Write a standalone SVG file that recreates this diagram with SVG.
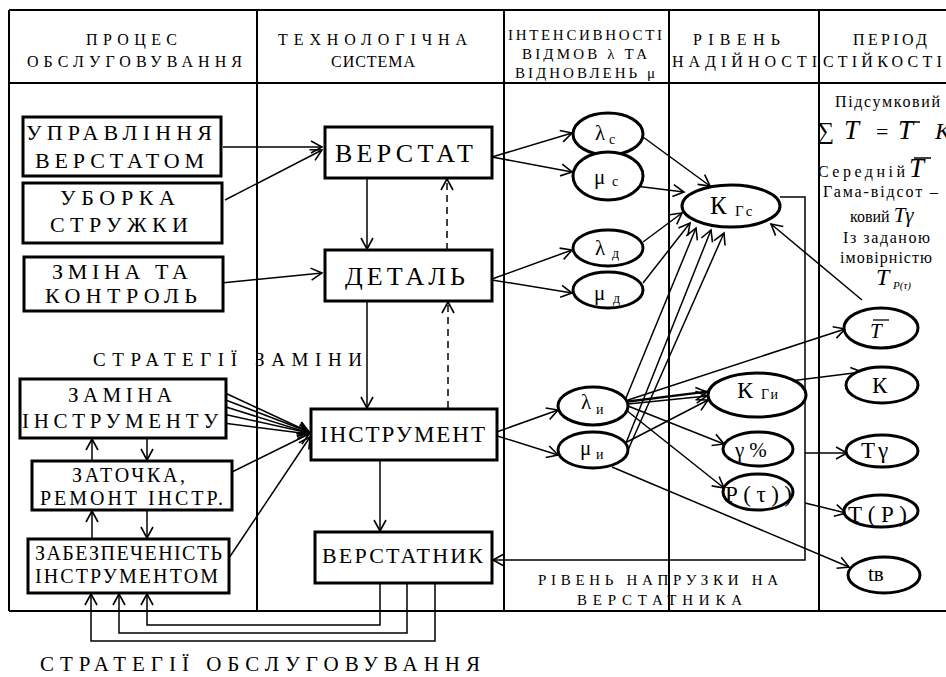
<svg xmlns="http://www.w3.org/2000/svg" width="946" height="677" viewBox="0 0 946 677">
<style>
text{font-family:'Liberation Serif','Times New Roman',serif;fill:#000}
.box{fill:#fff;stroke:#000;stroke-width:3}
.ell{fill:#fff;stroke:#000;stroke-width:3}
.tbl{stroke:#000;stroke-width:2;fill:none}
.c{stroke:#000;stroke-width:1.5;fill:none}
.ar{marker-end:url(#a)}
.d{stroke-dasharray:7,5}
.h{font-size:16px}
.h3{font-size:15px}
.it{font-style:italic}
</style>
<defs>
<marker id="a" markerWidth="14" markerHeight="14" refX="12" refY="7" orient="auto" markerUnits="userSpaceOnUse">
<path d="M1,1 L12,7 L1,13" fill="none" stroke="#000" stroke-width="1.6"/>
</marker>
</defs>
<rect width="946" height="677" fill="#fff"/>

<g id="table">
<path class="tbl" d="M9,10 H946 M9,83 H946 M9,611 H946 M9,10 V611 M257,10 V611 M504,10 V611 M669,10 V611 M819,10 V611"/>
<text class="h" x="86" y="45" textLength="91" lengthAdjust="spacing">ПРОЦЕС</text>
<text class="h" x="27" y="67" textLength="215" lengthAdjust="spacing">ОБСЛУГОВУВАННЯ</text>
<text class="h" x="278" y="45" textLength="189" lengthAdjust="spacing">ТЕХНОЛОГІЧНА</text>
<text class="h" x="331" y="67" textLength="84" lengthAdjust="spacing">СИСТЕМА</text>
<text class="h3" x="508" y="40" textLength="154" lengthAdjust="spacing">ІНТЕНСИВНОСТІ</text>
<text class="h3" x="522" y="59" textLength="125" lengthAdjust="spacing">ВІДМОВ λ ТА</text>
<text class="h3" x="515" y="78" textLength="140" lengthAdjust="spacing">ВІДНОВЛЕНЬ μ</text>
<text class="h" x="693" y="45" textLength="87" lengthAdjust="spacing">РІВЕНЬ</text>
<text class="h" x="672" y="67" textLength="145" lengthAdjust="spacing">НАДІЙНОСТІ</text>
<text class="h" x="853" y="45" textLength="74" lengthAdjust="spacing">ПЕРІОД</text>
<text class="h" x="823" y="67" style="letter-spacing:4.2px">СТІЙКОСТІ</text>
</g>

<g id="period-text" style="font-size:16px">
<text x="835" y="107" textLength="105" lengthAdjust="spacing">Підсумковий</text>
<text x="817" y="139" style="font-size:24px">∑</text>
<text x="844" y="139" class="it" style="font-size:27px">T</text>
<text x="876" y="139" style="font-size:22px">=</text>
<text x="898" y="139" class="it" style="font-size:27px">T</text>
<line x1="903" y1="122" x2="920" y2="122" stroke="#000" stroke-width="1.5"/>
<text x="935" y="139" class="it" style="font-size:24px">K</text>
<text x="818" y="177" textLength="87" lengthAdjust="spacing">Середній</text>
<text x="909" y="177" class="it" style="font-size:27px">T</text>
<line x1="914" y1="158" x2="931" y2="158" stroke="#000" stroke-width="1.5"/>
<text x="823" y="197" textLength="115" lengthAdjust="spacing">Гама-відсот –</text>
<text x="850" y="222">ковий <tspan class="it" style="font-size:21px">Tγ</tspan></text>
<text x="843" y="243" textLength="87" lengthAdjust="spacing">Із заданою</text>
<text x="840" y="263" textLength="92" lengthAdjust="spacing">імовірністю</text>
<text x="876" y="285" class="it" style="font-size:24px">T</text>
<text x="893" y="289" class="it" style="font-size:11px">P(τ)</text>
</g>

<g id="connectors">
<path class="c ar" d="M223,147 H322"/>
<path class="c ar" d="M225,200 L322,150"/>
<path class="c ar" d="M221,283 L322,273"/>
<path class="c ar" d="M367,178 V249"/>
<path class="c ar d" d="M447,250 V179"/>
<path class="c ar" d="M367,301 V408"/>
<path class="c ar d" d="M448,408 V302"/>
<path class="c ar" d="M380,460 V531"/>
<path class="c ar" d="M223,392 L309,432"/>
<path class="c ar" d="M223,399 L309,432"/>
<path class="c ar" d="M223,406 L309,433"/>
<path class="c ar" d="M223,414 L309,433"/>
<path class="c ar" d="M223,423 L309,434"/>
<path class="c ar" d="M232,472 L309,434"/>
<path class="c ar" d="M229,558 L310,437"/>
<path class="c ar" d="M92,461 V439"/>
<path class="c ar" d="M147,438 V460"/>
<path class="c ar" d="M92,539 V511"/>
<path class="c ar" d="M147,510 V538"/>
<path class="c ar" d="M380,583 V625 H147 V594"/>
<path class="c ar" d="M407,583 V633 H119 V594"/>
<path class="c ar" d="M435,583 V641 H91 V594"/>
<path class="c ar" d="M492,157 L572,133"/>
<path class="c ar" d="M492,157 L572,172"/>
<path class="c ar" d="M492,279 L572,250"/>
<path class="c ar" d="M492,280 L572,293"/>
<path class="c ar" d="M491,434 L558,410"/>
<path class="c ar" d="M491,434 L558,455"/>
<path class="c ar" d="M643,137 L710,186"/>
<path class="c ar" d="M627,185 L684,192"/>
<path class="c ar" d="M643,242 L682,213"/>
<path class="c ar" d="M643,283 L690,223"/>
<path class="c ar" d="M626,398 L696,228"/>
<path class="c ar" d="M626,443 L711,230"/>
<path class="c ar" d="M628,450 L724,233"/>
<path class="c ar" d="M862,300 L771,224"/>
<path class="c ar" d="M780,197 H805 V560 H493"/>
<path class="c ar" d="M628,400 L845,329"/>
<path class="c ar" d="M628,401 L862,372"/>
<path class="c ar" d="M628,402 L707,392"/>
<path class="c ar" d="M628,404 L707,396"/>
<path class="c ar" d="M627,442 L708,400"/>
<path class="c ar" d="M628,406 L724,444"/>
<path class="c ar" d="M626,410 L724,488"/>
<path class="c ar" d="M612,467 L849,567"/>
<path class="c ar" d="M805,453 H847"/>
<path class="c ar" d="M805,503 L846,513"/>
</g>

<g id="n-upr"><rect class="box" x="23" y="117" width="198" height="59"/>
<text x="26" y="140" style="font-size:22px" textLength="186" lengthAdjust="spacing">УПРАВЛІННЯ</text>
<text x="35" y="168" style="font-size:22px" textLength="169" lengthAdjust="spacing">ВЕРСТАТОМ</text></g>
<g id="n-ubor"><rect class="box" x="23" y="183" width="199" height="60"/>
<text x="60" y="205" style="font-size:22px" textLength="115" lengthAdjust="spacing">УБОРКА</text>
<text x="50" y="232" style="font-size:22px" textLength="138" lengthAdjust="spacing">СТРУЖКИ</text></g>
<g id="n-zmina"><rect class="box" x="24" y="257" width="199" height="54"/>
<text x="52" y="279" style="font-size:22px" textLength="136" lengthAdjust="spacing">ЗМІНА ТА</text>
<text x="45" y="303" style="font-size:22px" textLength="152" lengthAdjust="spacing">КОНТРОЛЬ</text></g>

<g id="n-verstat"><rect class="box" x="325" y="127" width="167" height="51"/>
<text x="335" y="162" style="font-size:26px" textLength="138" lengthAdjust="spacing">ВЕРСТАТ</text></g>
<g id="n-detal"><rect class="box" x="325" y="250" width="167" height="51"/>
<text x="345" y="285" style="font-size:26px" textLength="120" lengthAdjust="spacing">ДЕТАЛЬ</text></g>
<g id="n-instr"><rect class="box" x="311" y="409" width="186" height="51"/>
<text x="320" y="442" style="font-size:23px" textLength="165" lengthAdjust="spacing">ІНСТРУМЕНТ</text></g>
<g id="n-verstatnyk"><rect class="box" x="315" y="532" width="177" height="51"/>
<text x="322" y="563" style="font-size:22px" textLength="161" lengthAdjust="spacing">ВЕРСТАТНИК</text></g>

<g id="n-zamina"><rect class="box" x="20" y="379" width="206" height="59"/>
<text x="68" y="402" style="font-size:21px" textLength="104" lengthAdjust="spacing">ЗАМІНА</text>
<text x="22" y="428" style="font-size:21px" textLength="196" lengthAdjust="spacing">ІНСТРУМЕНТУ</text></g>
<g id="n-zatochka"><rect class="box" x="32" y="461" width="200" height="49"/>
<text x="72" y="482" style="font-size:20px" textLength="113" lengthAdjust="spacing">ЗАТОЧКА,</text>
<text x="40" y="505" style="font-size:20px" textLength="183" lengthAdjust="spacing">РЕМОНТ ІНСТР.</text></g>
<g id="n-zabezp"><rect class="box" x="28" y="539" width="201" height="54"/>
<text x="35" y="560" style="font-size:20px" textLength="187" lengthAdjust="spacing">ЗАБЕЗПЕЧЕНІСТЬ</text>
<text x="35" y="583" style="font-size:20px" textLength="183" lengthAdjust="spacing">ІНСТРУМЕНТОМ</text></g>

<g id="lbl-strat">
<text x="93" y="366" style="font-size:19px" textLength="269" lengthAdjust="spacing">СТРАТЕГІЇ ЗАМІНИ</text>
<text x="40" y="671" style="font-size:21px" textLength="440" lengthAdjust="spacing">СТРАТЕГІЇ ОБСЛУГОВУВАННЯ</text>
<text x="538" y="585" style="font-size:15px" textLength="240" lengthAdjust="spacing">РІВЕНЬ НАПРУЗКИ НА</text>
<text x="577" y="605" style="font-size:15px" textLength="165" lengthAdjust="spacing">ВЕРСТАТНИКА</text>
</g>

<g id="n-lc"><ellipse class="ell" cx="608" cy="134" rx="35" ry="21"/>
<text x="595" y="140" style="font-size:21px">λ</text><text x="609" y="144" style="font-size:14px">с</text></g>
<g id="n-mc"><ellipse class="ell" cx="608" cy="176" rx="35" ry="24"/>
<text x="594" y="184" style="font-size:21px">μ</text><text x="612" y="186" style="font-size:14px">с</text></g>
<g id="n-ld"><ellipse class="ell" cx="608" cy="248" rx="35" ry="18"/>
<text x="595" y="255" style="font-size:21px">λ</text><text x="612" y="258" style="font-size:14px">д</text></g>
<g id="n-md"><ellipse class="ell" cx="608" cy="290" rx="35" ry="18"/>
<text x="594" y="300" style="font-size:21px">μ</text><text x="613" y="303" style="font-size:14px">д</text></g>
<g id="n-li"><ellipse class="ell" cx="593" cy="406" rx="35" ry="19"/>
<text x="581" y="409" style="font-size:21px">λ</text><text x="596" y="414" style="font-size:14px">и</text></g>
<g id="n-mi"><ellipse class="ell" cx="593" cy="450" rx="35" ry="18"/>
<text x="580" y="455" style="font-size:21px">μ</text><text x="596" y="459" style="font-size:14px">и</text></g>

<g id="n-kgs"><ellipse class="ell" cx="731" cy="206" rx="49" ry="21"/>
<text x="710" y="214" style="font-size:25px">К</text><text x="735" y="216" style="font-size:15px;letter-spacing:2px">Гс</text></g>
<g id="n-kgi"><ellipse class="ell" cx="757" cy="395" rx="49" ry="22"/>
<text x="737" y="398" style="font-size:24px">К</text><text x="761" y="399" style="font-size:14px;letter-spacing:2px">Ги</text></g>
<g id="n-gamma"><ellipse class="ell" cx="758" cy="449" rx="35" ry="17"/>
<text x="735" y="457" style="font-size:21px;letter-spacing:5px">γ%</text></g>
<g id="n-ptau"><ellipse class="ell" cx="758" cy="492" rx="35" ry="18"/>
<text x="725" y="502" style="font-size:23px" textLength="67" lengthAdjust="spacing">P(τ))</text></g>

<g id="n-tbar"><ellipse class="ell" cx="881" cy="328" rx="37" ry="20"/>
<text x="870" y="338" class="it" style="font-size:21px">T</text>
<line x1="873" y1="320" x2="889" y2="320" stroke="#000" stroke-width="1.3"/></g>
<g id="n-k"><ellipse class="ell" cx="882" cy="385" rx="36" ry="18"/>
<text x="872" y="393" style="font-size:23px">К</text></g>
<g id="n-tg"><ellipse class="ell" cx="882" cy="451" rx="36" ry="16"/>
<text x="861" y="458" style="font-size:23px;letter-spacing:3px">Тγ</text></g>
<g id="n-tp"><ellipse class="ell" cx="881" cy="511" rx="37" ry="16"/>
<text x="848" y="522" style="font-size:23px" textLength="59" lengthAdjust="spacing">T(P)</text></g>
<g id="n-tv"><ellipse class="ell" cx="884" cy="575" rx="36" ry="18"/>
<text x="868" y="581" style="font-size:21px">tв</text></g>
</svg>
